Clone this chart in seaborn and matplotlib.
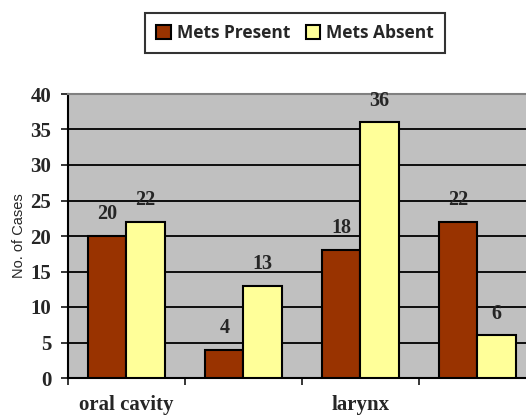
import numpy as np
import pandas as pd
import matplotlib
matplotlib.use("Agg")
import matplotlib.pyplot as plt
import seaborn as sns

# Data
sites = ["oral cavity", "site 2", "larynx", "site 4"]
site_labels = ["oral cavity", "", "larynx", ""]
mets_present = [20, 4, 18, 22]
mets_absent = [22, 13, 36, 6]
series = ["Mets Present", "Mets Absent"]
colors = ["#993300", "#FFFF99"]

df = pd.DataFrame({
    "site": sites * 2,
    "status": [series[0]] * len(sites) + [series[1]] * len(sites),
    "cases": mets_present + mets_absent,
})

sns.set_style("white")
fig = plt.figure(figsize=(5.26, 4.18), dpi=100)
ax = fig.add_axes([68 / 526, 40 / 418, 468 / 526, 284 / 418])

sns.barplot(
    data=df, x="site", y="cases", hue="status", order=sites, hue_order=series,
    palette=colors, width=0.65, gap=0, edgecolor="black", linewidth=1.5,
    saturation=1, errorbar=None, ax=ax, zorder=3,
)

for cont in ax.containers:
    ax.bar_label(cont, padding=8.5, fontsize=14.5, fontweight="bold",
                 family="Liberation Serif")

ax.set_facecolor("#C0C0C0")
ax.set_axisbelow(True)
ax.set_ylim(0, 40)
ax.set_xlim(-0.5, 3.5)
ax.set_yticks(np.arange(0, 41, 5))
ax.yaxis.grid(True, color="black", linewidth=1.3)
ax.tick_params(axis="y", direction="out", length=5, width=1.3, pad=7,
               labelsize=15, left=True)
for lab in ax.get_yticklabels():
    lab.set_fontweight("bold")
    lab.set_family("Liberation Serif")

# major ticks at category boundaries, labels at centres
ax.set_xticks(np.arange(-0.5, 3.5, 1.0))
ax.set_xticklabels([])
ax.tick_params(axis="x", which="major", direction="out", length=5, width=1.3, bottom=True)
ax.set_xticks(range(len(sites)), minor=True)
ax.set_xticklabels(site_labels, minor=True, fontweight="bold",
                   family="Liberation Serif", fontsize=15)
ax.tick_params(axis="x", which="minor", length=0, pad=12.5)

ax.set_xlabel("")
ax.set_ylabel("No. of Cases", fontsize=10.5, family="Liberation Sans", labelpad=3)

for side in ["left", "bottom"]:
    ax.spines[side].set_color("black")
    ax.spines[side].set_linewidth(1.5)
ax.spines["top"].set_color("#808080")
ax.spines["top"].set_linewidth(1.5)
ax.spines["right"].set_visible(False)

ax.get_legend().remove()
handles = [plt.Rectangle((0, 0), 1, 1, facecolor=c, edgecolor="black", linewidth=1.5)
           for c in colors]
leg = fig.legend(handles, series, loc="center", bbox_to_anchor=(295 / 526, 1 - 33 / 418),
                 ncol=2, frameon=True, fancybox=False, handlelength=0.85, handleheight=0.85,
                 handletextpad=0.35, columnspacing=0.9, borderpad=0.65,
                 prop={"family": "Open Sans", "weight": "bold", "size": 12.5})
leg.get_frame().set_edgecolor("black")
leg.get_frame().set_linewidth(1.5)

fig.savefig("out.png", dpi=100)
